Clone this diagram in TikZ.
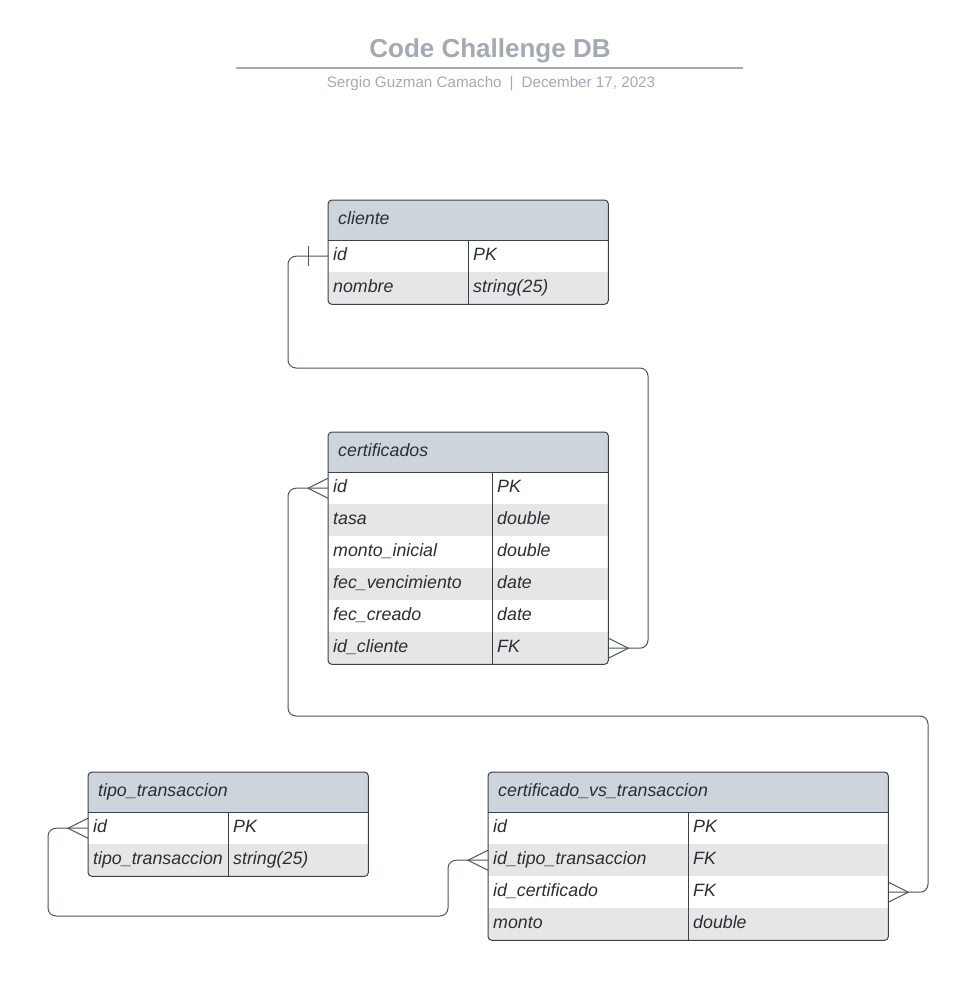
\documentclass[tikz,border=0pt]{standalone}
\usepackage{fontspec}
\setmainfont{Liberation Sans}

\definecolor{titlegrey}{HTML}{A4AAB3}
\definecolor{hdrgrey}{HTML}{CED4DC}
\definecolor{rowgrey}{HTML}{E6E6E6}
\definecolor{bordergrey}{HTML}{3D434B}
\definecolor{linegrey}{HTML}{4F555D}
\definecolor{txtdark}{HTML}{2A2E35}

\tikzset{
  cell/.style={anchor=north west, minimum height=32pt, inner xsep=5pt, inner ysep=0pt,
    text height=12pt, text depth=4pt, align=left, text=txtdark,
    font=\fontsize{17.8}{20}\selectfont\itshape},
  hdr/.style={cell, fill=hdrgrey, minimum height=40pt, inner xsep=10pt},
  tbl/.style={draw=bordergrey, line width=1pt},
  conn/.style={draw=linegrey, line width=1pt, rounded corners=8pt},
  crow/.pic={\draw[linegrey, line width=1pt] (0,10) -- (-20,0) -- (0,-10);}
}

\begin{document}
\begin{tikzpicture}[x=1pt, y=-1pt]
    % Fondo y limites
    \fill[white] (0,0) rectangle (974,1001);
    \useasboundingbox (0,0) rectangle (974,1001);

    % Titulo
    \node[anchor=base, text=titlegrey, font=\fontsize{26}{30}\selectfont\bfseries] (title) at (490,57) {Code Challenge DB};
    \draw[titlegrey, line width=2pt] (236,68) -- (743,68);
    \node[anchor=base, text=titlegrey, font=\fontsize{15.2}{18}\selectfont] (sub) at (491,87)
        {Sergio Guzman Camacho\hspace{8pt}|\hspace{8pt}December 17, 2023};

    % Tabla: cliente
    \begin{scope}
        \clip[rounded corners=4pt] (328,200) rectangle (608,304);
        \node[hdr, text width=260pt] (cl) at (328,200) {cliente};
        \foreach \f/\t/\c [count=\i] in {id/PK/white, nombre/string(25)/rowgrey}{
            \node[cell, fill=\c, text width=130pt] (cl-\i) at (328,{208+32*\i}) {\f};
            \node[cell, fill=\c, text width=130pt] (clt-\i) at (468,{208+32*\i}) {\t};
        }
    \end{scope}
    \draw[tbl, rounded corners=4pt] (cl.north west) rectangle (clt-2.south east);
    \draw[tbl] (cl.south west) -- (cl.south east);
    \draw[tbl] (clt-1.north west) -- (clt-2.south west);

    % Tabla: certificados
    \begin{scope}
        \clip[rounded corners=4pt] (328,432) rectangle (608,664);
        \node[hdr, text width=260pt] (ce) at (328,432) {certificados};
        \foreach \f/\t/\c [count=\i] in {id/PK/white, tasa/double/rowgrey,
            monto\_inicial/double/white, fec\_vencimiento/date/rowgrey,
            fec\_creado/date/white, id\_cliente/FK/rowgrey}{
            \node[cell, fill=\c, text width=154pt] (ce-\i) at (328,{440+32*\i}) {\f};
            \node[cell, fill=\c, text width=106pt] (cet-\i) at (492,{440+32*\i}) {\t};
        }
    \end{scope}
    \draw[tbl, rounded corners=4pt] (ce.north west) rectangle (cet-6.south east);
    \draw[tbl] (ce.south west) -- (ce.south east);
    \draw[tbl] (cet-1.north west) -- (cet-6.south west);

    % Tabla: tipo_transaccion
    \begin{scope}
        \clip[rounded corners=4pt] (88,772) rectangle (368,876);
        \node[hdr, text width=260pt] (tt) at (88,772) {tipo\_transaccion};
        \foreach \f/\t/\c [count=\i] in {id/PK/white, tipo\_transaccion/string(25)/rowgrey}{
            \node[cell, fill=\c, text width=130pt] (tt-\i) at (88,{780+32*\i}) {\f};
            \node[cell, fill=\c, text width=130pt] (ttt-\i) at (228,{780+32*\i}) {\t};
        }
    \end{scope}
    \draw[tbl, rounded corners=4pt] (tt.north west) rectangle (ttt-2.south east);
    \draw[tbl] (tt.south west) -- (tt.south east);
    \draw[tbl] (ttt-1.north west) -- (ttt-2.south west);

    % Tabla: certificado_vs_transaccion
    \begin{scope}
        \clip[rounded corners=4pt] (488,772) rectangle (888,940);
        \node[hdr, text width=380pt] (cv) at (488,772) {certificado\_vs\_transaccion};
        \foreach \f/\t/\c [count=\i] in {id/PK/white, id\_tipo\_transaccion/FK/rowgrey,
            id\_certificado/FK/white, monto/double/rowgrey}{
            \node[cell, fill=\c, text width=190pt] (cv-\i) at (488,{780+32*\i}) {\f};
            \node[cell, fill=\c, text width=190pt] (cvt-\i) at (688,{780+32*\i}) {\t};
        }
    \end{scope}
    \draw[tbl, rounded corners=4pt] (cv.north west) rectangle (cvt-4.south east);
    \draw[tbl] (cv.south west) -- (cv.south east);
    \draw[tbl] (cvt-1.north west) -- (cvt-4.south west);

    % Relaciones
    % cliente.id -> certificados.id_cliente
    \draw[conn] (cl-1.west) -- ++(-40,0) |- (648,368) |- (cet-6.east);
    \draw[linegrey, line width=1pt] ([xshift=-20pt]cl-1.west) ++(0,-10) -- ++(0,20);
    \pic[rotate=180] at (cet-6.east) {crow};

    % certificados.id -> certificado_vs_transaccion.id_certificado
    \draw[conn] (ce-1.west) -- ++(-40,0) |- (928,716) |- (cvt-3.east);
    \pic at (ce-1.west) {crow};
    \pic[rotate=180] at (cvt-3.east) {crow};

    % tipo_transaccion.id -> certificado_vs_transaccion.id_tipo_transaccion
    \draw[conn] (tt-1.west) -- ++(-40,0) |- (448,916) |- (cv-2.west);
    \pic at (tt-1.west) {crow};
    \pic at (cv-2.west) {crow};
\end{tikzpicture}
\end{document}
